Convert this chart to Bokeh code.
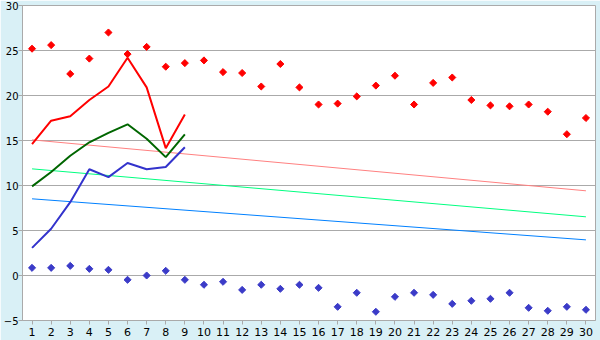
import math
from bokeh.plotting import figure
from bokeh.models import Range1d, FixedTicker
from bokeh.embed import file_html
from bokeh.resources import INLINE

days = list(range(1, 31))
record_high = [25.2, 25.6, 22.4, 24.1, 27.0, 24.6, 25.4, 23.2, 23.6, 23.9,
               22.6, 22.5, 21.0, 23.5, 20.9, 19.0, 19.1, 19.9, 21.1, 22.2,
               19.0, 21.4, 22.0, 19.5, 18.9, 18.8, 19.0, 18.2, 15.7, 17.5]
record_low = [0.85, 0.85, 1.07, 0.74, 0.63, -0.48, 0.0, 0.52, -0.48, -1.03,
              -0.7, -1.6, -1.03, -1.48, -1.03, -1.37, -3.48, -1.92, -4.03, -2.37,
              -1.92, -2.15, -3.15, -2.81, -2.59, -1.92, -3.59, -3.92, -3.48, -3.81]

obs_days = [1, 2, 3, 4, 5, 6, 7, 8, 9]
obs_max = [14.6, 17.2, 17.7, 19.5, 21.0, 24.2, 20.9, 14.15, 17.9]
obs_mean = [9.9, 11.5, 13.3, 14.8, 15.85, 16.8, 15.2, 13.15, 15.67]
obs_min = [3.07, 5.19, 8.15, 11.8, 10.93, 12.5, 11.8, 12.05, 14.25]

norm_days = [1, 30]
norm_max = [15.07, 9.41]
norm_mean = [11.85, 6.52]
norm_min = [8.52, 3.96]

y_ticks = [-5, 0, 5, 10, 15, 20, 25, 30]

bg = "#D9F0F6"
grid = "#AAAAAA"

p = figure(width=600, height=340, output_backend="svg", toolbar_location=None,
           x_range=Range1d(0.5, 30.5), y_range=Range1d(-5, 30),
           min_border_left=0, min_border_right=5, min_border_top=5, min_border_bottom=20)
p.background_fill_color = "white"
p.border_fill_color = bg
p.outline_line_color = grid
p.outline_line_width = 1

p.xgrid.grid_line_color = None
p.ygrid.grid_line_color = grid
p.ygrid.grid_line_width = 1

for ax in (p.xaxis, p.yaxis):
    ax.axis_line_color = grid
    ax.major_tick_line_color = grid
    ax.minor_tick_line_color = None
    ax.major_tick_in = 0
    ax.major_tick_out = 4
    ax.major_label_text_font = "DejaVu Sans"
    ax.major_label_text_color = "black"
    ax.major_label_standoff = 0

p.xaxis.major_label_text_font_size = "11px"
p.xaxis.major_label_standoff = 3
p.yaxis.major_label_text_font_size = "10px"

p.xaxis.ticker = FixedTicker(ticks=days)
p.yaxis.ticker = FixedTicker(ticks=y_ticks)

p.line(norm_days, norm_max, line_color="#FF8080", line_width=1)
p.line(norm_days, norm_mean, line_color="#00FF80", line_width=1)
p.line(norm_days, norm_min, line_color="#0080FF", line_width=1)

p.line(obs_days, obs_max, line_color="#FF0000", line_width=2)
p.line(obs_days, obs_mean, line_color="#006600", line_width=2)
p.line(obs_days, obs_min, line_color="#3333CC", line_width=2)

p.scatter(days, record_high, marker="square", angle=math.pi / 4, size=5,
          fill_color="#FF0000", line_color="#FF0000")
p.scatter(days, record_low, marker="square", angle=math.pi / 4, size=5,
          fill_color="#3B3BC8", line_color="#3B3BC8")

open("out.html", "w").write(file_html(p, INLINE))
